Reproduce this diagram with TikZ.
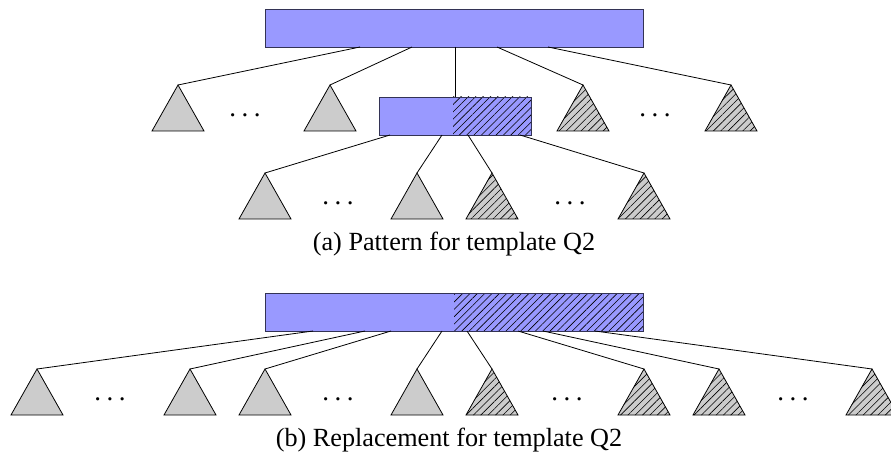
\documentclass[tikz,border=0pt]{standalone}
\usepackage{fontspec}
\setmainfont{Liberation Serif}
\usetikzlibrary{patterns.meta}
\definecolor{boxblue}{HTML}{9999FF}
\definecolor{boxedge}{HTML}{333355}
\definecolor{trigray}{HTML}{CCCCCC}
\tikzset{
  hatch/.style={pattern={Lines[angle=45,distance=5.2pt,line width=0.6pt]},pattern color=black},
  boxstyle/.style={draw=boxedge,line width=0.9pt},
  tristyle/.style={draw=black,fill=trigray,line width=0.8pt,line join=miter},
  hatchtri/.style={draw=black,line width=0.8pt,line join=miter,preaction={fill=trigray},hatch},
  edge/.style={draw=black,line width=0.8pt},
  dotsnode/.style={font=\fontsize{27}{27}\selectfont,inner sep=0pt},
  caption/.style={font=\fontsize{26.2}{28}\selectfont,inner sep=0pt}
}
% a gray subtree triangle: name, apex x, apex y
\newcommand\gtri[3]{%
  \coordinate (#1) at (#2,#3);
  \path[tristyle] (#1) -- ++(-26,46) -- ++(52,0) -- cycle;}
% a hatched subtree triangle
\newcommand\htri[3]{%
  \coordinate (#1) at (#2,#3);
  \path[hatchtri] (#1) -- ++(-26,46) -- ++(52,0) -- cycle;}
\newcommand\threedots[2]{\node[dotsnode] at (#1,#2) {.\kern5.5pt.\kern5.5pt.};}
\begin{document}
\begin{tikzpicture}[x=1pt,y=-1pt]
\useasboundingbox (0,0) rectangle (891,462);
\clip (0,0) rectangle (891,462);

% ---------- (a) pattern ----------
\fill[boxblue] (265,9) rectangle (643,47);
\draw[boxstyle] (265,9) rectangle (643,47);

\fill[boxblue] (379,97) rectangle (531,135);
\fill[hatch] (453,97) rectangle (531,135);
\draw[boxstyle] (379,97) rectangle (531,135);
\coordinate (midtop) at (455,97);

\gtri{a1}{178}{85}
\gtri{a2}{330}{85}
\htri{a3}{583}{85}
\htri{a4}{731}{85}
\threedots{245}{115}
\threedots{655}{115}

\draw[edge] (360,47) -- (a1);
\draw[edge] (412,47) -- (a2);
\draw[edge] (455,47) -- (midtop);
\draw[edge] (497,47) -- (a3);
\draw[edge] (548,47) -- (a4);

\gtri{b1}{265}{173}
\gtri{b2}{417}{173}
\htri{b3}{492}{173}
\htri{b4}{644}{173}
\threedots{338}{203}
\threedots{570}{203}

\draw[edge] (390,135) -- (b1);
\draw[edge] (442,135) -- (b2);
\draw[edge] (468,135) -- (b3);
\draw[edge] (520,135) -- (b4);

\node[caption] (capa) at (454,244) {(a) Pattern for template Q2};

% ---------- (b) replacement ----------
\fill[boxblue] (265,293) rectangle (643,331);
\fill[hatch] (454,293) rectangle (643,331);
\draw[boxstyle] (265,293) rectangle (643,331);

\gtri{c1}{37}{369}
\gtri{c2}{190}{369}
\gtri{c3}{265}{369}
\gtri{c4}{417}{369}
\htri{c5}{492}{369}
\htri{c6}{644}{369}
\htri{c7}{719}{369}
\htri{c8}{872}{369}
\threedots{110}{399}
\threedots{338}{399}
\threedots{567}{399}
\threedots{793}{399}

\draw[edge] (313,331) -- (c1);
\draw[edge] (365,331) -- (c2);
\draw[edge] (391,331) -- (c3);
\draw[edge] (442,331) -- (c4);
\draw[edge] (467,331) -- (c5);
\draw[edge] (518,331) -- (c6);
\draw[edge] (543,331) -- (c7);
\draw[edge] (595,331) -- (c8);

\node[caption] (capb) at (449,440) {(b) Replacement for template Q2};
\end{tikzpicture}
\end{document}
